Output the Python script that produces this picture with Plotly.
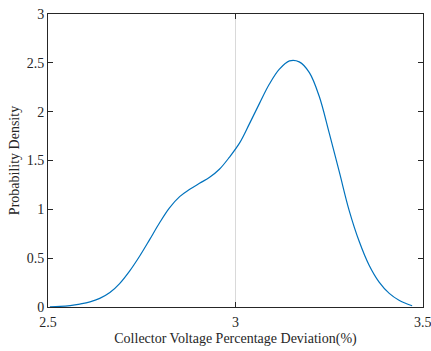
import plotly.graph_objects as go

# Data (kernel density estimate)
x_vals = [2.505, 2.532, 2.559, 2.585, 2.612, 2.638, 2.665, 2.691, 2.718, 2.745,
          2.771, 2.798, 2.824, 2.851, 2.878, 2.904, 2.931, 2.957, 2.984, 3.011,
          3.037, 3.064, 3.090, 3.117, 3.144, 3.170, 3.197, 3.223, 3.250, 3.277,
          3.303, 3.330, 3.356, 3.383, 3.410, 3.436, 3.471]
density = [0.002, 0.006, 0.015, 0.03, 0.052, 0.088, 0.148, 0.24, 0.37, 0.525,
           0.69, 0.865, 1.015, 1.13, 1.205, 1.267, 1.328, 1.41, 1.535, 1.68,
           1.875, 2.085, 2.28, 2.435, 2.52, 2.51, 2.40, 2.16, 1.78, 1.38,
           0.99, 0.67, 0.43, 0.255, 0.14, 0.07, 0.013]

x_ticks = [2.5, 3, 3.5]
x_tick_text = ["2.5", "3", "3.5"]
y_ticks = [0, 0.5, 1, 1.5, 2, 2.5, 3]
y_tick_text = ["0", "0.5", "1", "1.5", "2", "2.5", "3"]

font_family = "Liberation Serif, Times New Roman, serif"
axis_color = "#262626"
fs = 14

fig = go.Figure()
fig.add_trace(go.Scatter(
    x=x_vals, y=density, mode="lines",
    line=dict(color="#0072BD", width=1.2, shape="spline", smoothing=1.0),
    hoverinfo="skip", showlegend=False,
))

fig.update_layout(
    width=431, height=351,
    margin=dict(l=48, r=7, t=12, b=43),
    paper_bgcolor="white", plot_bgcolor="white",
    font=dict(family=font_family, size=fs, color=axis_color),
)
fig.update_xaxes(
    range=[2.5, 3.5], tickvals=x_ticks, ticktext=x_tick_text,
    showline=True, linecolor=axis_color, linewidth=1, mirror="ticks",
    ticks="inside", ticklen=5, tickcolor=axis_color, tickwidth=1,
    showgrid=True, gridcolor="#d9d9d9", gridwidth=1, zeroline=False,
    title=dict(text="Collector Voltage Percentage Deviation(%)", font=dict(size=fs), standoff=4),
    tickfont=dict(size=fs), ticklabelstandoff=2,
)
fig.update_yaxes(
    range=[0, 3], tickvals=y_ticks, ticktext=y_tick_text,
    showline=True, linecolor=axis_color, linewidth=1, mirror="ticks",
    ticks="inside", ticklen=5, tickcolor=axis_color, tickwidth=1,
    showgrid=False, zeroline=False,
    title=dict(text="Probability Density", font=dict(size=fs), standoff=3),
    tickfont=dict(size=fs),
)

# The "3.5" tick label sits at the plot's right edge and is partly cut by the page
fig.add_annotation(
    x=3.5, y=0, xref="x", yref="paper", text="3.5", showarrow=False,
    xanchor="center", yanchor="top", yshift=-6,
    font=dict(family=font_family, size=fs, color=axis_color),
)

fig.write_html("out.html")
